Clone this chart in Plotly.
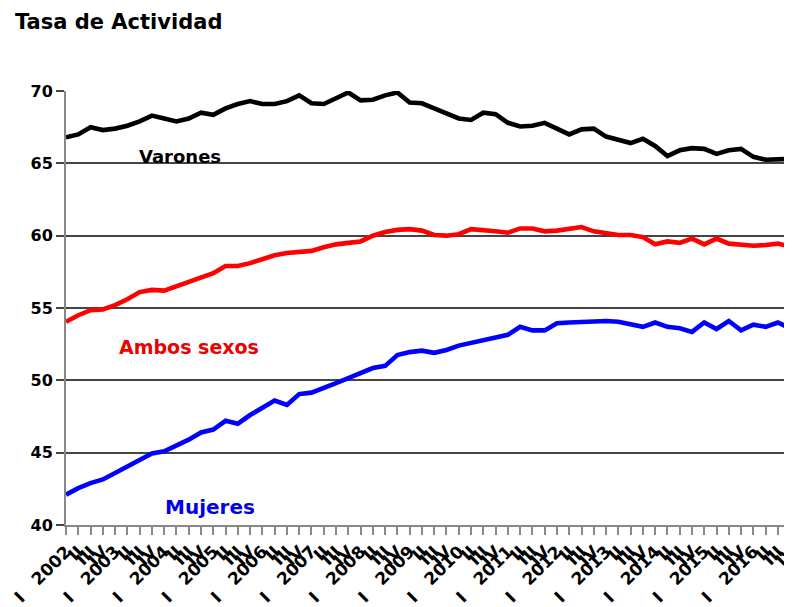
import plotly.graph_objects as go

years = list(range(2002, 2017))
quarters = ["I", "II", "III", "IV"]
periods = [f"{y} {q}" for y in years for q in quarters]
tick_text = [("I" + "\u00a0" * 3 + str(y)) if q == "I" else q for y in years for q in quarters]

varones = [66.8, 67.0, 67.5, 67.3, 67.4, 67.6, 67.9, 68.3, 68.1, 67.9,
           68.1, 68.5, 68.35, 68.8, 69.1, 69.3, 69.1, 69.1, 69.3, 69.7,
           69.15, 69.1, 69.5, 69.9, 69.35, 69.4, 69.7, 69.9, 69.2, 69.15,
           68.8, 68.45, 68.1, 68.0, 68.5, 68.4, 67.8, 67.55, 67.6, 67.8,
           67.4, 67.0, 67.35, 67.4, 66.85, 66.6, 66.4, 66.7, 66.2, 65.5,
           65.9, 66.05, 66.0, 65.65, 65.9, 66.0, 65.45, 65.25, 65.25, 65.3]

ambos = [54.05, 54.5, 54.85, 54.9, 55.2, 55.6, 56.1, 56.25, 56.2, 56.5,
         56.85, 57.1, 57.4, 57.9, 57.9, 58.1, 58.4, 58.65, 58.8, 58.9,
         58.95, 59.2, 59.4, 59.5, 59.6, 60.0, 60.25, 60.4, 60.45, 60.35,
         60.05, 60.0, 60.1, 60.45, 60.4, 60.3, 60.2, 60.5, 60.5, 60.3,
         60.35, 60.5, 60.6, 60.3, 60.2, 60.05, 60.05, 59.9, 59.4, 59.6,
         59.5, 59.8, 59.4, 59.8, 59.45, 59.35, 59.3, 59.35, 59.45, 59.25]

mujeres = [42.1, 42.55, 42.9, 43.15, 43.6, 44.05, 44.5, 44.95, 45.1, 45.5,
           45.9, 46.4, 46.6, 47.2, 47.0, 47.6, 48.1, 48.6, 48.3, 49.05,
           49.15, 49.45, 49.8, 50.15, 50.5, 50.85, 51.0, 51.75, 51.95, 52.05,
           51.9, 52.1, 52.4, 52.6, 52.75, 52.95, 53.15, 53.7, 53.45, 53.45,
           53.95, 54.0, 54.05, 54.1, 54.1, 54.05, 53.9, 53.7, 54.0, 53.7,
           53.6, 53.35, 54.0, 53.55, 54.1, 53.45, 53.85, 53.7, 54.0, 53.6]

series_names = ["Varones", "Ambos sexos", "Mujeres"]
series_colors = ["#000000", "#ff0000", "#0000ff"]

fig = go.Figure()
for name, vals, col in zip(series_names, [varones, ambos, mujeres], series_colors):
    fig.add_trace(go.Scatter(x=periods, y=vals, mode="lines", name=name,
                             line=dict(color=col, width=4.6)))

lab_font = "DejaVu Sans"
fig.add_annotation(x=periods[9], xshift=4, y=65.44, text="<b>Varones</b>", showarrow=False,
                   font=dict(family=lab_font, size=18, color="#000000"))
fig.add_annotation(x=periods[10], y=52.31, text="<b>Ambos sexos</b>", showarrow=False,
                   font=dict(family=lab_font, size=19, color="#ee0000"))
fig.add_annotation(x=periods[12], xshift=-3, y=41.25, text="<b>Mujeres</b>", showarrow=False,
                   font=dict(family=lab_font, size=20, color="#0000ee"))

# page has an 8px body margin, so the figure is sized to fill the remaining viewport
fig.update_layout(
    width=784, height=599,
    margin=dict(l=58, r=0, t=83, b=82, autoexpand=False),
    plot_bgcolor="white", paper_bgcolor="white",
    showlegend=False,
    title=dict(text="<b>Tasa de Actividad</b>", x=7 / 784, xanchor="left",
               y=1 - 14 / 599, yanchor="middle", yref="container",
               font=dict(family=lab_font, size=21, color="black")),
)
fig.update_xaxes(type="category", range=[0, 59.15], tickmode="array",
                 tickvals=periods, ticktext=tick_text, tickangle=-45,
                 automargin=False,
                 ticks="outside", ticklen=8, tickcolor="#888", tickwidth=1.5,
                 showline=True, linecolor="#888", linewidth=2, showgrid=False,
                 tickfont=dict(family=lab_font, size=17, color="black", weight="bold"))
fig.update_yaxes(range=[40, 70], tick0=40, dtick=5, showgrid=True,
                 automargin=False,
                 gridcolor="#444", gridwidth=2, zeroline=False,
                 showline=True, linecolor="#888", linewidth=2,
                 ticks="outside", ticklen=8, tickcolor="#444", tickwidth=2,
                 tickfont=dict(family=lab_font, size=16, color="black", weight="bold"))

fig.write_html("out.html")
